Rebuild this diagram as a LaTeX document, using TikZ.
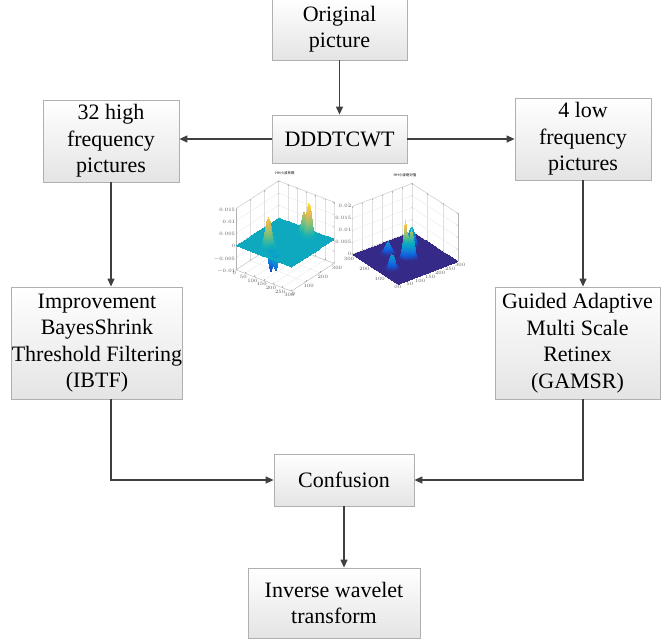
\documentclass[tikz,border=0pt]{standalone}
\usepackage{fontspec}
\setmainfont{Liberation Serif}
\newfontfamily\cjk{Noto Sans CJK SC}
\usepackage{tikz}
\usetikzlibrary{arrows.meta,positioning,calc,shadows}
\usepackage{pgfplots}
\pgfplotsset{compat=1.18}
\definecolor{fcline}{HTML}{404040}
\definecolor{fcborder}{HTML}{B0B0B0}
\definecolor{fcshade}{HTML}{E4E4E4}
\pgfplotsset{
  colormap={parula}{rgb255=(53,42,135) rgb255=(15,92,221) rgb255=(18,125,216)
    rgb255=(7,156,207) rgb255=(21,177,180) rgb255=(89,189,140) rgb255=(165,190,107)
    rgb255=(225,185,82) rgb255=(252,206,46) rgb255=(249,251,14)},
  minisurf/.style={
    grid=major, major grid style={gray!25,line width=0.2pt},
    axis line style={gray!60,line width=0.3pt},
    tick style={gray!60,line width=0.2pt}, major tick length=1.5pt,
    ticklabel style={font=\fontsize{3.2}{3.6}\selectfont,text=gray!70!black,inner sep=0.6pt},
    title style={font=\cjk\fontsize{3.5}{4}\selectfont,yshift=-3pt},
    xmin=0,xmax=300,ymin=0,ymax=300,
    xtick={0,50,...,300}, ytick={0,100,200,300},
    scaled z ticks=false,
    zticklabel style={/pgf/number format/fixed,/pgf/number format/precision=3},
    colormap name=parula, samples=45, domain=0:300, y domain=0:300
  }
}

\begin{document}
\begin{tikzpicture}[x=1pt,y=-1pt,
  boxnode/.style={draw=fcborder,line width=0.8pt,top color=white,bottom color=fcshade,
    drop shadow={shadow xshift=1pt,shadow yshift=-1pt,opacity=0.25},
    align=center,inner xsep=0pt,inner ysep=2pt,
    font=\fontsize{22}{26.5}\selectfont},
  flowarrow/.style={draw=fcline,line width=1.2pt,-{Triangle[length=8pt,width=7pt]}}]
\useasboundingbox (0,0) rectangle (661,639);
%% boxes
\node[boxnode,minimum width=135pt,minimum height=62pt] (orig) at (339.5,29) {Original\\picture};
\node[boxnode,minimum width=135pt,minimum height=48pt] (dtcwt) at (339.5,139) {DDDTCWT};
\node[boxnode,minimum width=136pt,minimum height=82pt] (high) at (111,141) {32 high\\frequency\\pictures};
\node[boxnode,minimum width=136pt,minimum height=82pt] (low) at (583,139) {4 low\\frequency\\pictures};
\node[boxnode,minimum width=166pt,minimum height=112pt] (ibtf) at (97,343)
  {Improvement\\BayesShrink\\Threshold Filtering\\(IBTF)};
\node[boxnode,minimum width=165pt,minimum height=112pt] (gamsr) at (577.5,343)
  {Guided Adaptive\\Multi Scale\\Retinex\\(GAMSR)};
\node[boxnode,minimum width=140pt,minimum height=52pt] (conf) at (344,480) {Confusion};
\node[boxnode,minimum width=172pt,minimum height=70pt] (inv) at (334,603) {Inverse wavelet\\transform};
%% connectors
\draw[flowarrow] (orig.south) -- (dtcwt.north);
\draw[flowarrow] (dtcwt.west) -- (dtcwt.west -| high.east);
\draw[flowarrow] (dtcwt.east) -- (dtcwt.east -| low.west);
\draw[flowarrow] (high.south) -- (high.south |- ibtf.north);
\draw[flowarrow] (low.south) -- (low.south |- gamsr.north);
\draw[flowarrow] (high.south |- ibtf.south) |- (conf.west);
\draw[flowarrow] (low.south |- gamsr.south) |- (conf.east);
\draw[flowarrow] (conf.south) -- (conf.south |- inv.north);
%% HH coefficients surface
\begin{axis}[minisurf,at={(285pt,-236pt)},anchor=center,
  x={(0.1850pt,-0.0710pt)},y={(0.1420pt,0.0925pt)},z={(0pt,2450pt)},
  zmin=-0.01,zmax=0.015,ztick={-0.01,-0.005,0,0.005,0.01,0.015},
  point meta min=-0.01,point meta max=0.015,title={HH小波系数}]
\addplot3[surf,shader=interp]
  {0.012*exp(-((x-110)^2+(y-80)^2)/250)+0.009*exp(-((x-90)^2+(y-115)^2)/150)
   -0.010*exp(-((x-140)^2+(y-60)^2)/120)-0.007*exp(-((x-180)^2+(y-40)^2)/150)
   +0.014*exp(-((x-200)^2+(y-250)^2)/200)+0.009*exp(-((x-165)^2+(y-262)^2)/200)};
\end{axis}
%% HH absolute value surface
\begin{axis}[minisurf,at={(405pt,-234pt)},anchor=center,
  x={(0.200pt,0.0767pt)},y={(-0.1535pt,0.1pt)},z={(0pt,2400pt)},
  zmin=0,zmax=0.02,ztick={0,0.005,0.01,0.015,0.02},
  point meta min=0,point meta max=0.016,title={HH小波绝对值}]
\addplot3[surf,shader=interp]
  {0.016*exp(-((x-150)^2+(y-150)^2)/120)+0.012*exp(-((x-170)^2+(y-135)^2)/120)
   +0.006*exp(-((x-60)^2+(y-120)^2)/200)+0.008*exp(-((x-235)^2+(y-220)^2)/200)
   +0.005*exp(-((x-120)^2+(y-225)^2)/250)};
\end{axis}
\end{tikzpicture}
\end{document}
